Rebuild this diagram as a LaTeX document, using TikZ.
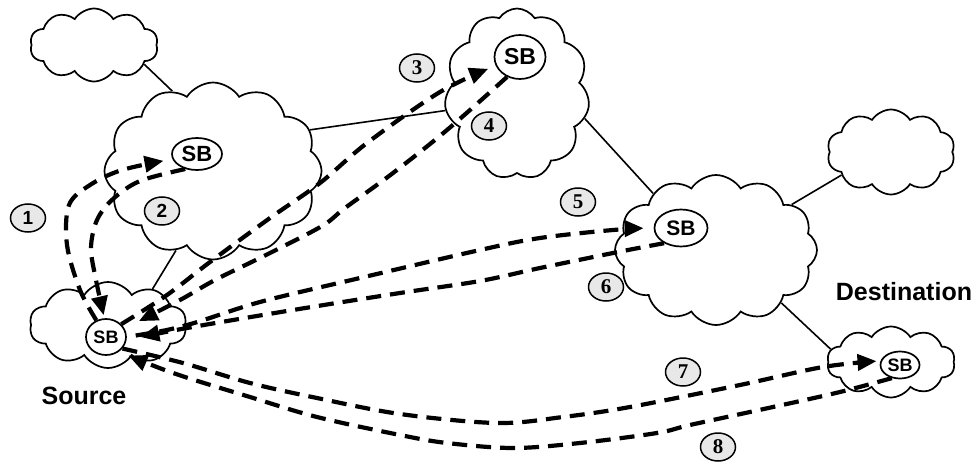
\documentclass[tikz,border=0pt]{standalone}
\usepackage{fontspec}
\setmainfont{Liberation Serif}
\setsansfont{Liberation Sans}
\usetikzlibrary{shapes.symbols,shapes.geometric,arrows.meta}
\begin{document}
\begin{tikzpicture}[x=1pt,y=-1pt,
  netcloud/.style={cloud, draw, fill=white, line width=1.7pt, cloud puffs=#1, cloud puff arc=115, inner sep=0pt},
  sbnode/.style={ellipse, draw, fill=white, line width=1.7pt, inner sep=0pt, font=\sffamily\bfseries\fontsize{#1}{#1}\selectfont},
  numnode/.style={ellipse, draw, fill=black!9, line width=1.5pt, minimum width=35pt, minimum height=28pt, inner sep=0pt},
  numsans/.style={numnode, font=\sffamily\bfseries\fontsize{19}{19}\selectfont},
  numserif/.style={numnode, font=\rmfamily\bfseries\fontsize{21}{21}\selectfont},
  link/.style={line width=1.6pt},
  msg/.style={line width=4.2pt, dash pattern=on 15pt off 9pt},
  msgarrow/.style={-{Triangle[length=19pt,width=16pt]}},
  biglabel/.style={font=\sffamily\bfseries\fontsize{25}{25}\selectfont}
]
\useasboundingbox (0,0) rectangle (980,463);

% clouds
\node[netcloud=10, minimum width=128pt, minimum height=73pt, aspect=1.75] (cTL) at (94,45) {};
\node[netcloud=12, minimum width=217pt, minimum height=177pt, aspect=1.23] (cL) at (213,171) {};
\node[netcloud=11, minimum width=145pt, minimum height=171pt, aspect=0.85] (cT) at (517,94) {};
\node[netcloud=12, minimum width=202pt, minimum height=150pt, aspect=1.35] (cR) at (716,250) {};
\node[netcloud=10, minimum width=128pt, minimum height=85pt, aspect=1.5] (cTR) at (891,152) {};
\node[netcloud=10, minimum width=157pt, minimum height=86pt, aspect=1.8] (cS) at (108,325) {};
\node[netcloud=10, minimum width=128pt, minimum height=71pt, aspect=1.8] (cD) at (891,362) {};

% solid links
\draw[link] (cTL.-21) -- (cL.117);
\draw[link] (cL.23) -- (cT.193);
\draw[link] (cL.245) -- (cS.39);
\draw[link] (cT.-20) -- (cR.138);
\draw[link] (cR.31) -- (cTR.205);
\draw[link] (cR.-39) -- (cD.168);

% SB nodes
\node[sbnode=22, minimum width=50pt, minimum height=32pt] (sL) at (197,154) {SB};
\node[sbnode=23, minimum width=51pt, minimum height=44pt] (sT) at (520,57) {SB};
\node[sbnode=21, minimum width=53pt, minimum height=37pt] (sR) at (681,228) {SB};
\node[sbnode=18, minimum width=40pt, minimum height=36pt] (sS) at (106,337) {SB};
\node[sbnode=18, minimum width=39pt, minimum height=27pt] (sD) at (900,365) {SB};

% dashed message paths
\draw[msg, msgarrow, shorten >=9pt] plot[smooth, tension=0.55] coordinates {(sS.120) (80,290) (67,245) (69,205) (90,185) (122,170) (sL.192)};
\draw[msg, msgarrow, shorten >=3pt] plot[smooth, tension=0.55] coordinates {(sL.232) (140,181) (113,199) (97,220) (91,248) (96,280) (sS.95)};
\draw[msg, msgarrow, shorten >=8pt] plot[smooth, tension=0.55] coordinates {(sS.40) (167,295) (210,262) (270,218) (320,183) (367,143) (440,92) (sT.200)};
\draw[msg, msgarrow, shorten >=16pt] plot[smooth, tension=0.55] coordinates {(sT.237) (447,130) (393,173) (345,208) (322,226) (270,253) (215,280) (180,300) (sS.25)};
\draw[msg, msgarrow, shorten <=9pt, shorten >=10pt] plot[smooth, tension=0.55] coordinates {(sS.east) (187,325) (260,302) (360,278) (480,250) (540,238) (613,230) (sR.west)};
\draw[msg, msgarrow, shorten >=14pt] plot[smooth, tension=0.55] coordinates {(sR.222) (623,251) (540,268) (480,281) (400,293) (293,310) (187,328) (sS.-8)};
\draw[msg, msgarrow, shorten >=4pt] plot[smooth, tension=0.55] coordinates {(sS.-35) (183,363) (250,383) (317,398) (400,414) (497,423) (563,417) (630,407) (740,385) (823,367) (sD.168)};
\draw[msg, msgarrow, shorten >=10pt] plot[smooth, tension=0.55] coordinates {(sD.238) (840,392) (773,407) (690,425) (657,433) (580,443) (513,448) (447,443) (400,435) (317,417) (250,397) (173,373) (sS.-48)};

% step numbers
\node[numsans] (n1) at (28,218) {1};
\node[numsans] (n2) at (162,211) {2};
\node[numserif] (n3) at (417,68) {3};
\node[numserif] (n4) at (489,126) {4};
\node[numserif] (n5) at (578,202) {5};
\node[numserif] (n6) at (606,287) {6};
\node[numserif] (n7) at (683,372) {7};
\node[numserif] (n8) at (718,447) {8};

% labels
\node[biglabel] (lsrc) at (84,396) {Source};
\node[biglabel] (ldst) at (904,292) {Destination};
\end{tikzpicture}
\end{document}
